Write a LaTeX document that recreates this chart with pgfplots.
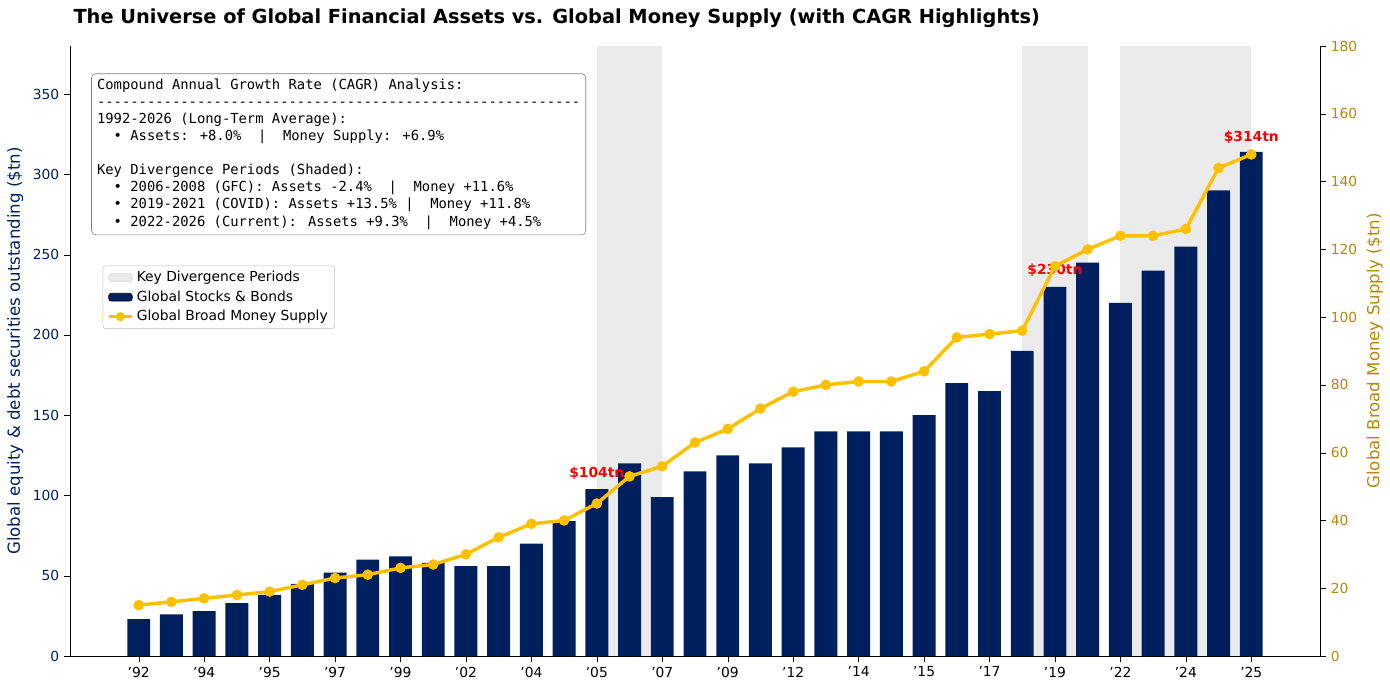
\documentclass[border=0pt]{standalone}
\usepackage{pgfplots}
\pgfplotsset{compat=1.18}
\usepackage{fontspec}
\setmainfont{DejaVu Sans}
\newfontfamily\monof{DejaVu Sans Mono}
\definecolor{navy}{HTML}{001F5F}
\definecolor{gold}{HTML}{FFC000}
\definecolor{dgold}{HTML}{B8860B}
\begin{document}
\begin{tikzpicture}
\pgfplotsset{every axis/.append style={scale only axis, width=12.5in, height=6.1in, xmin=1989.9, xmax=2028.1,
 tick style={black}, tick align=outside, /pgf/number format/assume math mode=true, font=\fontsize{10}{12}\selectfont}}
\path (-0.7in,-0.34in) rectangle (13.2in,6.56in);
\begin{axis}[axis lines*=left, ymin=0, ymax=380, ytick={0,50,...,350},
 yticklabel style={text=navy},
 xtick={1992,1994,...,2026}, xticklabel={'\pgfmathparse{int(mod(\tick,100))}\ifnum\pgfmathresult<10 0\fi\pgfmathresult},
 ylabel={Global equity \& debt securities outstanding (\$tn)}, ylabel style={text=navy, font=\fontsize{12}{14}\selectfont},
 title={\textbf{The Universe of Global Financial Assets vs. Global Money Supply (with CAGR Highlights)}},
 title style={font=\fontsize{14}{16}\selectfont, anchor=south west, at={(0,1)}, xshift=-1pt, yshift=4pt},
 legend style={at={(0.026,0.64)}, anchor=north west, font=\fontsize{10}{12}\selectfont, draw=black!25, rounded corners=2pt, row sep=1pt},
 legend cell align=left]
\fill[black!8] (axis cs:2006,0) rectangle (axis cs:2008,380);
\fill[black!8] (axis cs:2019,0) rectangle (axis cs:2021,380);
\fill[black!8] (axis cs:2022,0) rectangle (axis cs:2026,380);
\addlegendimage{area legend, fill=black!8, draw=black!15}\addlegendentry{Key Divergence Periods}
\addplot[ybar, bar width=0.7, fill=navy, draw=none, area legend] coordinates {
(1992,23)(1993,26)(1994,28)(1995,33)(1996,38)(1997,45)(1998,52)(1999,60)(2000,62)(2001,58)
(2002,56)(2003,56)(2004,70)(2005,84)(2006,104)(2007,120)(2008,99)(2009,115)(2010,125)(2011,120)
(2012,130)(2013,140)(2014,140)(2015,140)(2016,150)(2017,170)(2018,165)(2019,190)(2020,230)(2021,245)
(2022,220)(2023,240)(2024,255)(2025,290)(2026,314)};
\addlegendentry{Global Stocks \& Bonds}
\addlegendimage{gold, line width=2.5pt, mark=*, mark options={scale=1}}\addlegendentry{Global Broad Money Supply}
\node[text=red, font=\bfseries\fontsize{10}{12}\selectfont] at (axis cs:2006,114) {\$104tn};
\node[text=red, font=\bfseries\fontsize{10}{12}\selectfont] at (axis cs:2020,240) {\$230tn};
\node[text=red, font=\bfseries\fontsize{10}{12}\selectfont] at (axis cs:2026,323) {\$314tn};
\node[anchor=north west, draw=black!50, rounded corners=3pt, fill=white, align=left, inner sep=4pt,
 font=\monof\fontsize{10}{12.3}\selectfont] at (rel axis cs:0.017,0.955) {%
Compound Annual Growth Rate (CAGR) Analysis:\\
----------------------------------------------------------\\
1992-2026 (Long-Term Average):\\
\ \ • Assets: +8.0\%\ \ |\ \ Money Supply: +6.9\%\\
\\
Key Divergence Periods (Shaded):\\
\ \ • 2006-2008 (GFC): Assets -2.4\%\ \ |\ \ Money +11.6\%\\
\ \ • 2019-2021 (COVID): Assets +13.5\% |\ \ Money +11.8\%\\
\ \ • 2022-2026 (Current): Assets +9.3\%\ \ |\ \ Money +4.5\%};
\end{axis}
\begin{axis}[axis x line=none, axis y line*=right, ymin=0, ymax=180, ytick={0,20,...,180},
 yticklabel style={text=dgold}, ylabel={Global Broad Money Supply (\$tn)},
 ylabel style={text=dgold, font=\fontsize{12}{14}\selectfont}]
\addplot[gold, line width=2.5pt, mark=*, mark size=2.5pt] coordinates {
(1992,15)(1993,16)(1994,17)(1995,18)(1996,19)(1997,21)(1998,23)(1999,24)(2000,26)(2001,27)
(2002,30)(2003,35)(2004,39)(2005,40)(2006,45)(2007,53)(2008,56)(2009,63)(2010,67)(2011,73)
(2012,78)(2013,80)(2014,81)(2015,81)(2016,84)(2017,94)(2018,95)(2019,96)(2020,115)(2021,120)
(2022,124)(2023,124)(2024,126)(2025,144)(2026,148)};
\end{axis}
\end{tikzpicture}
\end{document}
